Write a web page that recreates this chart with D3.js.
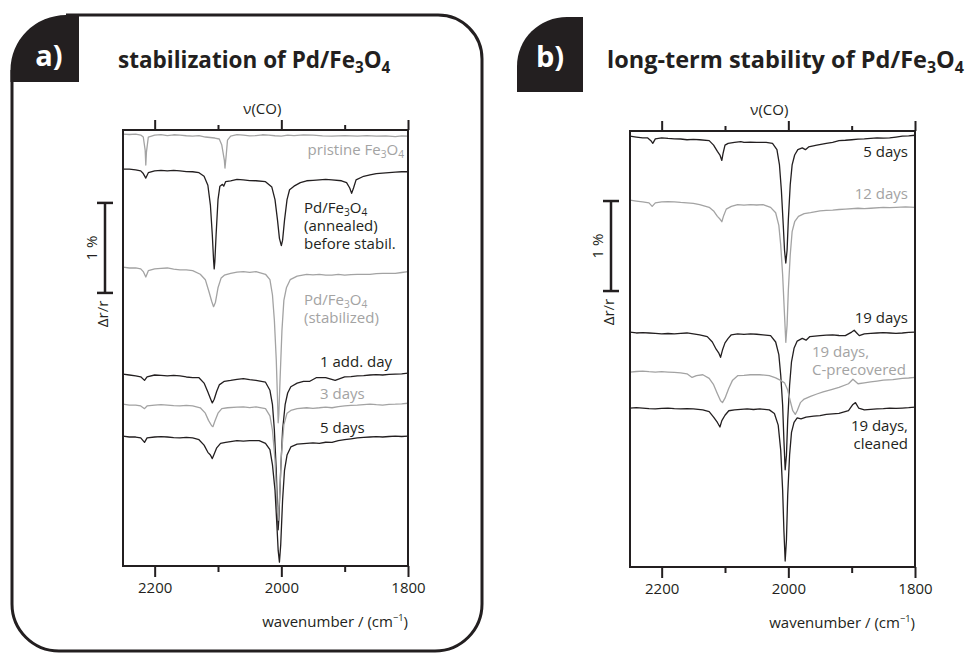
<!DOCTYPE html>
<html>
<head>
<meta charset="utf-8">
<script src="https://cdn.jsdelivr.net/npm/d3@7"></script>
<style>
  body { margin: 0; background: #fff; }
  svg { display: block; font-family: "Open Sans", sans-serif; }
</style>
</head>
<body>
<div id="chart"></div>
<script>
// axis ticks (wavenumber, cm-1)
const ticksMajor = [2200, 2000, 1800];
const ticksMinor = [2100, 1900];

// panel a: baseline offsets (Δr/r in %, from top of plot)
const offsetsA = [-0.056, -0.444, -1.533, -2.722, -3.056, -3.411];
const colorsA = ["#a3a3a3", "#231f20", "#a3a3a3", "#231f20", "#a3a3a3", "#231f20"];

// spectra: [wavenumber, Δr/r (%) relative to baseline]
const pristine = [[2250,0.01],[2240,0.006],[2230,0.011],[2222,0],[2218,-0.022],[2215,-0.167],[2214,-0.333],[2213,-0.189],[2210,-0.022],[2200,0],[2190,0.004],[2180,-0.006],[2170,0.003],[2160,0],[2150,-0.008],[2140,-0.011],[2130,-0.006],[2120,-0.022],[2105,-0.033],[2098,-0.044],[2094,-0.111],[2090,-0.278],[2089,-0.367],[2087,-0.222],[2085,-0.056],[2080,-0.011],[2070,0.004],[2060,0],[2050,-0.009],[2040,-0.006],[2030,0.003],[2020,0],[2010,-0.008],[2000,-0.011],[1990,-0.002],[1980,-0.006],[1965,0.002],[1950,0],[1935,-0.009],[1920,-0.011],[1900,-0.006],[1880,-0.011],[1865,-0.006],[1850,-0.011],[1835,-0.009],[1820,-0.017],[1810,-0.01],[1800,-0.011]];
const annealed = [[2250,0.01],[2240,0.01],[2230,0],[2222,-0.01],[2218,-0.04],[2214,-0.09],[2210,-0.03],[2200,-0.01],[2190,-0.005],[2180,-0.01],[2170,-0.004],[2160,-0.01],[2150,-0.018],[2140,-0.02],[2130,-0.03],[2122,-0.07],[2116,-0.17],[2112,-0.39],[2109,-0.72],[2107,-1.0],[2106,-1.1],[2105,-1.02],[2103,-0.72],[2100,-0.33],[2097,-0.18],[2093,-0.16],[2091,-0.18],[2088,-0.13],[2080,-0.12],[2070,-0.105],[2060,-0.11],[2050,-0.118],[2040,-0.12],[2025,-0.13],[2015,-0.19],[2010,-0.33],[2006,-0.56],[2003,-0.76],[2000,-0.84],[1998,-0.78],[1995,-0.56],[1991,-0.33],[1987,-0.22],[1980,-0.18],[1970,-0.14],[1960,-0.12],[1950,-0.115],[1940,-0.11],[1930,-0.105],[1920,-0.11],[1905,-0.12],[1897,-0.14],[1892,-0.2],[1889,-0.26],[1886,-0.2],[1882,-0.11],[1870,-0.07],[1860,-0.055],[1850,-0.04],[1840,-0.035],[1830,-0.03],[1820,-0.025],[1810,-0.02],[1800,-0.02]];
const stabilized = [[2250,0.01],[2240,0],[2230,0],[2222,-0.01],[2218,-0.04],[2214,-0.1],[2210,-0.03],[2200,-0.01],[2190,-0.004],[2180,0],[2170,-0.012],[2160,-0.02],[2150,-0.022],[2140,-0.03],[2128,-0.07],[2120,-0.13],[2114,-0.27],[2110,-0.37],[2107,-0.43],[2104,-0.38],[2100,-0.22],[2095,-0.11],[2090,-0.08],[2080,-0.06],[2070,-0.045],[2060,-0.04],[2050,-0.048],[2040,-0.04],[2025,-0.07],[2018,-0.13],[2014,-0.3],[2011,-0.58],[2008,-1.02],[2006,-1.47],[2005,-1.72],[2004,-1.63],[2002,-1.24],[1999,-0.69],[1996,-0.36],[1992,-0.22],[1986,-0.13],[1975,-0.09],[1960,-0.07],[1950,-0.076],[1940,-0.07],[1930,-0.08],[1920,-0.08],[1910,-0.072],[1900,-0.08],[1890,-0.074],[1880,-0.07],[1860,-0.07],[1850,-0.062],[1840,-0.06],[1820,-0.06],[1810,-0.05],[1800,-0.04]];
const day1 = [[2250,0.01],[2240,0],[2230,-0.01],[2222,-0.02],[2216,-0.06],[2212,-0.02],[2200,0],[2190,-0.004],[2180,-0.01],[2170,-0.005],[2160,-0.01],[2150,-0.022],[2140,-0.03],[2130,-0.03],[2122,-0.09],[2116,-0.19],[2112,-0.26],[2109,-0.31],[2106,-0.27],[2102,-0.18],[2098,-0.11],[2090,-0.07],[2080,-0.06],[2070,-0.048],[2060,-0.04],[2050,-0.052],[2040,-0.06],[2025,-0.08],[2018,-0.17],[2014,-0.33],[2011,-0.61],[2008,-1.06],[2006,-1.5],[2005,-1.72],[2004,-1.61],[2001,-1.06],[1998,-0.61],[1994,-0.33],[1990,-0.2],[1985,-0.13],[1975,-0.09],[1965,-0.07],[1955,-0.07],[1945,-0.03],[1930,-0.03],[1915,-0.06],[1900,-0.02],[1890,-0.018],[1880,-0.01],[1870,-0.006],[1860,0],[1850,0.004],[1840,0],[1830,0.006],[1820,0.01],[1810,0.012],[1800,0.02]];
const days3 = [[2250,0.01],[2240,0],[2230,0],[2222,-0.01],[2216,-0.04],[2212,-0.01],[2200,0],[2190,0.004],[2180,0],[2170,-0.006],[2160,-0.01],[2150,-0.004],[2140,-0.01],[2128,-0.03],[2120,-0.09],[2115,-0.17],[2110,-0.23],[2108,-0.24],[2105,-0.18],[2100,-0.09],[2094,-0.04],[2085,-0.03],[2070,-0.024],[2060,-0.02],[2050,-0.028],[2040,-0.02],[2025,-0.04],[2018,-0.12],[2014,-0.28],[2010,-0.61],[2007,-1.06],[2005,-1.28],[2003,-1.06],[2000,-0.56],[1996,-0.22],[1991,-0.09],[1985,-0.06],[1975,-0.04],[1960,-0.03],[1950,-0.036],[1940,-0.03],[1930,-0.022],[1920,-0.03],[1910,-0.018],[1900,-0.01],[1890,-0.004],[1880,0],[1870,0.006],[1860,0.01],[1850,0.004],[1840,0],[1830,0.008],[1820,0.01],[1810,0.014],[1800,0.02]];
const days5a = [[2250,0.01],[2240,0],[2230,0],[2222,-0.01],[2216,-0.06],[2212,-0.01],[2200,0],[2190,0.004],[2180,0],[2170,-0.006],[2160,-0.01],[2150,-0.004],[2140,-0.01],[2130,-0.03],[2122,-0.09],[2116,-0.17],[2112,-0.2],[2109,-0.24],[2106,-0.19],[2102,-0.12],[2096,-0.07],[2088,-0.06],[2070,-0.04],[2060,-0.046],[2050,-0.04],[2035,-0.04],[2025,-0.07],[2018,-0.14],[2014,-0.31],[2010,-0.59],[2007,-0.98],[2005,-1.26],[2003,-1.39],[2001,-1.2],[1998,-0.7],[1995,-0.37],[1991,-0.2],[1985,-0.11],[1975,-0.08],[1960,-0.07],[1950,-0.064],[1940,-0.07],[1930,-0.058],[1920,-0.06],[1910,-0.04],[1900,-0.03],[1890,-0.02],[1880,-0.01],[1870,-0.004],[1860,0],[1850,0.004],[1840,0],[1830,0.006],[1820,0.01],[1810,0.006],[1800,0.01]];
const spectraA = [pristine, annealed, stabilized, day1, days3, days5a];

// panel b
const offsetsB = [-0.067, -0.778, -2.244, -2.678, -3.078];
const colorsB = ["#231f20", "#a3a3a3", "#231f20", "#a3a3a3", "#231f20"];
const days5b = [[2250,0.01],[2240,0],[2230,-0.01],[2222,-0.01],[2217,-0.04],[2214,-0.07],[2210,-0.02],[2200,-0.01],[2190,-0.016],[2180,-0.02],[2170,-0.022],[2160,-0.03],[2150,-0.026],[2140,-0.03],[2125,-0.04],[2118,-0.09],[2112,-0.16],[2108,-0.2],[2105,-0.26],[2103,-0.18],[2100,-0.09],[2095,-0.07],[2085,-0.06],[2075,-0.052],[2070,-0.06],[2060,-0.056],[2050,-0.06],[2035,-0.06],[2025,-0.07],[2018,-0.14],[2014,-0.31],[2011,-0.59],[2008,-0.98],[2006,-1.26],[2004,-1.4],[2002,-1.26],[2000,-0.92],[1997,-0.53],[1994,-0.31],[1990,-0.2],[1985,-0.14],[1978,-0.12],[1973,-0.14],[1968,-0.11],[1955,-0.09],[1940,-0.07],[1930,-0.06],[1920,-0.04],[1910,-0.036],[1900,-0.03],[1890,-0.024],[1880,-0.02],[1870,-0.014],[1860,-0.01],[1850,-0.012],[1840,-0.01],[1830,0],[1820,0.01],[1810,0.012],[1800,0.02]];
const days12 = [[2250,0.01],[2240,0],[2230,-0.01],[2220,-0.02],[2215,-0.06],[2210,-0.02],[2200,-0.01],[2190,-0.006],[2180,-0.01],[2170,-0.016],[2160,-0.02],[2150,-0.026],[2140,-0.04],[2125,-0.07],[2118,-0.11],[2112,-0.17],[2108,-0.2],[2105,-0.23],[2102,-0.16],[2098,-0.09],[2090,-0.06],[2080,-0.04],[2070,-0.046],[2060,-0.04],[2050,-0.044],[2040,-0.04],[2028,-0.07],[2020,-0.13],[2015,-0.27],[2012,-0.49],[2009,-0.82],[2006,-1.27],[2004,-1.57],[2002,-1.38],[2000,-0.99],[1997,-0.6],[1994,-0.34],[1990,-0.23],[1984,-0.17],[1975,-0.14],[1965,-0.13],[1950,-0.11],[1940,-0.104],[1930,-0.1],[1920,-0.094],[1910,-0.09],[1890,-0.08],[1880,-0.084],[1870,-0.08],[1850,-0.07],[1840,-0.074],[1830,-0.07],[1815,-0.066],[1800,-0.07]];
const days19 = [[2250,0.01],[2240,0],[2230,0.004],[2220,0],[2210,-0.004],[2200,-0.01],[2190,-0.006],[2180,-0.01],[2170,-0.004],[2160,0],[2150,-0.01],[2140,-0.02],[2128,-0.04],[2120,-0.1],[2114,-0.18],[2110,-0.22],[2107,-0.27],[2104,-0.19],[2100,-0.11],[2095,-0.06],[2090,-0.02],[2080,-0.01],[2070,-0.016],[2060,-0.01],[2050,-0.014],[2040,-0.02],[2028,-0.03],[2020,-0.1],[2015,-0.24],[2012,-0.47],[2009,-0.8],[2007,-1.19],[2005,-1.52],[2003,-1.36],[2001,-0.97],[1998,-0.58],[1995,-0.32],[1991,-0.17],[1986,-0.09],[1978,-0.06],[1972,-0.08],[1966,-0.04],[1950,-0.03],[1940,-0.024],[1930,-0.02],[1920,-0.028],[1910,-0.03],[1900,0.01],[1896,0.03],[1892,0],[1888,-0.03],[1880,-0.01],[1870,-0.004],[1860,0],[1850,0.004],[1840,0],[1830,-0.004],[1820,0],[1810,0.006],[1800,0.01]];
const precovered = [[2250,0],[2240,0.006],[2230,0.01],[2220,0.004],[2210,0],[2200,0.004],[2190,0],[2180,-0.004],[2170,-0.01],[2160,-0.02],[2152,-0.06],[2145,-0.04],[2135,-0.03],[2125,-0.07],[2118,-0.14],[2112,-0.24],[2107,-0.32],[2104,-0.34],[2100,-0.29],[2094,-0.18],[2088,-0.09],[2080,-0.04],[2070,-0.036],[2060,-0.03],[2045,-0.03],[2030,-0.04],[2020,-0.064],[2013,-0.09],[2006,-0.12],[2001,-0.2],[1997,-0.32],[1993,-0.43],[1989,-0.47],[1986,-0.43],[1981,-0.34],[1975,-0.3],[1965,-0.27],[1955,-0.244],[1945,-0.22],[1932,-0.194],[1920,-0.17],[1905,-0.13],[1898,-0.08],[1890,-0.13],[1880,-0.12],[1870,-0.11],[1860,-0.1],[1850,-0.09],[1835,-0.084],[1820,-0.07],[1810,-0.066],[1800,-0.06]];
const cleaned = [[2250,0],[2240,0.004],[2230,0],[2220,-0.006],[2210,-0.01],[2200,-0.004],[2190,0],[2180,-0.006],[2170,-0.01],[2160,-0.006],[2150,-0.01],[2135,-0.02],[2125,-0.04],[2118,-0.1],[2112,-0.16],[2108,-0.21],[2105,-0.14],[2100,-0.08],[2094,-0.03],[2085,-0.02],[2075,-0.014],[2065,-0.01],[2055,-0.016],[2045,-0.01],[2030,-0.02],[2022,-0.06],[2016,-0.19],[2012,-0.47],[2009,-0.91],[2007,-1.36],[2005,-1.7],[2003,-1.47],[2001,-0.97],[1998,-0.52],[1995,-0.27],[1991,-0.16],[1986,-0.11],[1980,-0.12],[1972,-0.1],[1960,-0.09],[1950,-0.084],[1940,-0.07],[1930,-0.064],[1920,-0.06],[1905,-0.03],[1898,0.04],[1894,0.06],[1889,0],[1880,-0.02],[1870,-0.014],[1860,-0.01],[1850,-0.006],[1840,0],[1830,-0.004],[1820,0],[1810,0.004],[1800,0.01]];
const spectraB = [days5b, days12, days19, precovered, cleaned];

const W = 968, H = 653;
const svg = d3.select("#chart").append("svg").attr("width", W).attr("height", H);
const BLACK = "#231f20", GREY = "#a3a3a3";

// text with _n subscripts and ^n superscripts; every tspan gets a size
function rich(sel, str, size) {
  const parts = str.split(/(_\d|\^[−-]?\d)/).filter(s => s.length);
  let shift = 0;
  parts.forEach(p => {
    let fs = size, target = 0, txt = p;
    if (p[0] === "_") { fs = size * 0.68; target = size * 0.2; txt = p.slice(1); }
    else if (p[0] === "^") { fs = size * 0.62; target = -size * 0.38; txt = p.slice(1); }
    sel.append("tspan").attr("font-size", fs).attr("dy", target - shift).text(txt);
    shift = target;
  });
  return sel;
}

function label(g, txt, x, y, color, anchor, size) {
  const t = g.append("text").attr("x", x).attr("y", y).attr("fill", color)
    .attr("text-anchor", anchor).attr("font-size", size);
  rich(t, txt, size);
}

function panel(opts) {
  const g = svg.append("g");
  const x = d3.scaleLinear().domain([2250, 1800]).range([opts.left, opts.right]);
  const y = d3.scaleLinear().domain([0, -4.844]).range([opts.top, opts.bottom]);

  const line = off => d3.line().x(d => x(d[0])).y(d => y(off + d[1]));
  opts.spectra.forEach((s, i) => {
    g.append("path").datum(s).attr("fill", "none")
      .attr("stroke", opts.colors[i]).attr("stroke-width", 1.3)
      .attr("stroke-linejoin", "round")
      .attr("d", line(opts.offsets[i]));
  });

  g.append("rect").attr("x", opts.left).attr("y", opts.top)
    .attr("width", opts.right - opts.left).attr("height", opts.bottom - opts.top)
    .attr("fill", "none").attr("stroke", BLACK).attr("stroke-width", 2);

  const axisStyle = sel => {
    sel.select(".domain").remove();
    sel.selectAll(".tick line").attr("stroke", BLACK).attr("stroke-width", 2);
    sel.selectAll(".tick text").attr("fill", BLACK).attr("font-size", 15)
      .attr("font-family", "Open Sans, sans-serif");
  };
  g.append("g").attr("transform", `translate(0,${opts.top})`)
    .call(d3.axisTop(x).tickValues(ticksMajor).tickSize(10).tickFormat("")).call(axisStyle);
  g.append("g").attr("transform", `translate(0,${opts.top})`)
    .call(d3.axisTop(x).tickValues(ticksMinor).tickSize(5).tickFormat("")).call(axisStyle);
  g.append("g").attr("transform", `translate(0,${opts.bottom})`)
    .call(d3.axisBottom(x).tickValues(ticksMajor).tickSize(11).tickPadding(5).tickFormat(d3.format("d"))).call(axisStyle);
  g.append("g").attr("transform", `translate(0,${opts.bottom})`)
    .call(d3.axisBottom(x).tickValues(ticksMinor).tickSize(6).tickFormat("")).call(axisStyle);

  label(g, "wavenumber / (cm^−1)", opts.right, opts.bottom + 61, BLACK, "end", 15);
  g.append("text").attr("x", x(2030)).attr("y", opts.top - 16).attr("text-anchor", "middle")
    .attr("font-size", 15).attr("fill", BLACK).text("ν(CO)");

  // 1 % scale bar
  const bx = opts.barX, y0 = y(opts.barTop), y1 = y(opts.barTop - 1);
  g.append("line").attr("x1", bx).attr("x2", bx).attr("y1", y0).attr("y2", y1)
    .attr("stroke", BLACK).attr("stroke-width", 2.5);
  [y0, y1].forEach(v => g.append("line").attr("x1", bx - 8).attr("x2", bx + 8)
    .attr("y1", v).attr("y2", v).attr("stroke", BLACK).attr("stroke-width", 2.5));
  g.append("text").attr("transform", `translate(${bx - 8},${(y0 + y1) / 2}) rotate(-90)`)
    .attr("text-anchor", "middle").attr("font-size", 15).attr("fill", BLACK).text("1 %");
  g.append("text").attr("transform", `translate(${bx + 3},${y1 + 21}) rotate(-90)`)
    .attr("text-anchor", "middle").attr("font-size", 15).attr("fill", BLACK).text("Δr/r");

  opts.labels.forEach(l => label(g, l[0], l[1], l[2], l[3], l[4], 15));
  return g;
}

// frame around panel a
svg.append("path")
  .attr("d", "M 66 15 H 438 A 44 44 0 0 1 482 59 V 604 A 47 47 0 0 1 435 651 H 59 A 47 47 0 0 1 12 604 V 70")
  .attr("fill", "none").attr("stroke", BLACK).attr("stroke-width", 3);

// tabs
svg.append("path").attr("d", "M 10.5 82 V 70 A 56 55 0 0 1 66 15 H 79 V 82 Z").attr("fill", BLACK);
svg.append("path").attr("d", "M 517 92 V 66 A 50 49 0 0 1 567 17 H 583 V 92 Z").attr("fill", BLACK);
svg.append("text").attr("x", 49).attr("y", 66).attr("text-anchor", "middle")
  .attr("font-size", 29).attr("font-weight", 700).attr("fill", "#fff").text("a)");
svg.append("text").attr("x", 550).attr("y", 67).attr("text-anchor", "middle")
  .attr("font-size", 29).attr("font-weight", 700).attr("fill", "#fff").text("b)");

const ta = svg.append("text").attr("x", 118).attr("y", 68).attr("font-size", 22.5)
  .attr("font-weight", 700).attr("fill", BLACK);
rich(ta, "stabilization of Pd/Fe_3O_4", 22.5);
const tb = svg.append("text").attr("x", 607).attr("y", 68).attr("font-size", 23.5)
  .attr("font-weight", 700).attr("fill", BLACK);
rich(tb, "long-term stability of Pd/Fe_3O_4", 23.5);

panel({
  left: 123, right: 408, top: 130, bottom: 566,
  spectra: spectraA, offsets: offsetsA, colors: colorsA,
  barX: 105, barTop: -0.81,
  labels: [
    ["pristine Fe_3O_4", 404, 155, GREY, "end"],
    ["Pd/Fe_3O_4", 304, 213, BLACK, "start"],
    ["(annealed)", 304, 231, BLACK, "start"],
    ["before stabil.", 304, 249, BLACK, "start"],
    ["Pd/Fe_3O_4", 304, 305, GREY, "start"],
    ["(stabilized)", 304, 323, GREY, "start"],
    ["1 add. day", 320, 367, BLACK, "start"],
    ["3 days", 320, 399, GREY, "start"],
    ["5 days", 320, 433, BLACK, "start"]
  ]
});

panel({
  left: 630, right: 915, top: 131, bottom: 567,
  spectra: spectraB, offsets: offsetsB, colors: colorsB,
  barX: 611, barTop: -0.778,
  labels: [
    ["5 days", 908, 157, BLACK, "end"],
    ["12 days", 908, 199, GREY, "end"],
    ["19 days", 908, 323, BLACK, "end"],
    ["19 days,", 812, 357, GREY, "start"],
    ["C-precovered", 812, 375, GREY, "start"],
    ["19 days,", 908, 431, BLACK, "end"],
    ["cleaned", 908, 449, BLACK, "end"]
  ]
});
</script>
</body>
</html>
